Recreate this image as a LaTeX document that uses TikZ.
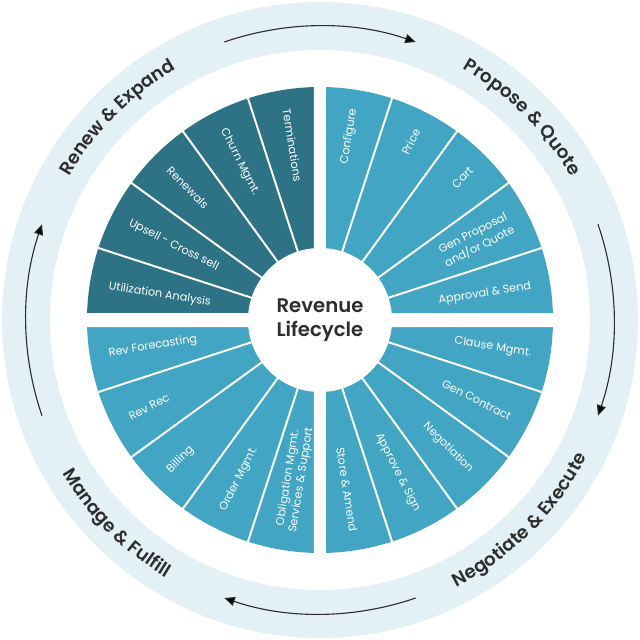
\documentclass[tikz,border=0pt]{standalone}
\usepackage{fontspec}
\setmainfont{Poppins}
\newfontfamily\semibd{Poppins}[UprightFont=* SemiBold]
\usepackage{tikz}
\usetikzlibrary{arrows.meta,decorations.text}
\definecolor{ringbg}{HTML}{E3F0F6}
\definecolor{tealdk}{HTML}{2D7285}
\definecolor{teallt}{HTML}{42A5C3}
\definecolor{ink}{HTML}{2E2E2E}

\begin{document}
\begin{tikzpicture}[x=0.025cm,y=0.025cm,
   slice/.style={text=white,font=\fontsize{8}{9.5}\selectfont,align=center,inner sep=0pt},
   phase/.style={decorate,decoration={text along path,text align=center,text color=ink}},
   loop arrow/.style={draw=ink,line width=0.8pt,-{Triangle[length=7.5pt,width=6.5pt]}}]
\useasboundingbox (-320,-320) rectangle (320,320);
% outer band
\fill[ringbg,even odd rule] (0,0) circle (318) (0,0) circle (270);
% one quadrant of five slices: start angle, colour, name prefix, turn, anchor, labels
\newcommand{\quadr}[6]{
  \foreach \lbl [count=\ii from 0] in {#6}{
     \pgfmathsetmacro{\aa}{#1+18*\ii}\pgfmathsetmacro{\mm}{\aa+9}
     \fill[#2] (0,0) -- (\aa:233) arc[start angle=\aa,delta angle=18,radius=233] -- cycle;
     \node[slice,rotate=\mm+#4,anchor=#5] (#3\ii) at (\mm:214) {\lbl};}}
\quadr{0}{teallt}{pq}{0}{east}{Approval \& Send,{Gen Proposal\\and/or Quote},Cart,Price,Configure}
\quadr{90}{tealdk}{re}{180}{west}{Terminations,Churn Mgmt.,Renewals,Upsell - Cross sell,Utilization Analysis}
\quadr{180}{teallt}{mf}{180}{west}{Rev Forecasting,Rev Rec,Billing,Order Mgmt.,{Obligation Mgmt.\\Services \& Support}}
\quadr{270}{teallt}{ne}{0}{east}{Store \& Amend,Approve \& Sign,Negotiation,Gen Contract,Clause Mgmt.}
% white spokes and the cross gap
\foreach \a in {0,18,...,342}{\draw[white,line width=1.4pt] (0,0) -- (\a:236);}
\fill[white] (-6,-236) rectangle (6,236) (-236,-7) rectangle (236,7);
\node[circle,fill=white,minimum size=3.6cm,inner sep=0pt,align=center,text=ink,
  font=\fontsize{14}{17}\selectfont\semibd] (hub) at (0,0) {Revenue\\Lifecycle};
% phase names on the band
\path[phase,decoration={text={|\fontsize{13}{15}\selectfont\semibd|Renew {\&} Expand}}] (175:289) arc[start angle=175,end angle=95,radius=289];
\path[phase,decoration={text={|\fontsize{13}{15}\selectfont\semibd|Propose {\&} Quote}}] (85:289) arc[start angle=85,end angle=5,radius=289];
\path[phase,decoration={text={|\fontsize{13}{15}\selectfont\semibd|Negotiate {\&} Execute}}] (-85:300) arc[start angle=-85,end angle=-5,radius=300];
\path[phase,decoration={text={|\fontsize{13}{15}\selectfont\semibd|Manage {\&} Fulfill}}] (185:300) arc[start angle=185,end angle=265,radius=300];
% arrows between phases
\draw[loop arrow] (109:294) arc[start angle=109,end angle=71,radius=294];
\draw[loop arrow] (19:294) arc[start angle=19,end angle=-19,radius=294];
\draw[loop arrow] (-71:294) arc[start angle=-71,end angle=-109,radius=294];
\draw[loop arrow] (199:294) arc[start angle=199,end angle=161,radius=294];
\end{tikzpicture}
\end{document}
